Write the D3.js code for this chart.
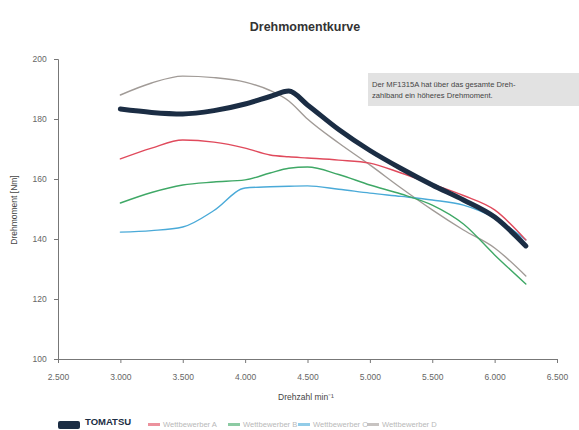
<!DOCTYPE html>
<html>
<head>
<meta charset="utf-8">
<script src="https://cdn.jsdelivr.net/npm/d3@7"></script>
<style>
  body { margin: 0; background: #fff; font-family: "Liberation Sans", Arial, sans-serif; }
  .axis path, .axis line { stroke: #777; }
  .axis text { fill: #666; font-size: 8.5px; }
</style>
</head>
<body>
<div id="chart"></div>
<script>
// rpm values
var rpm = [3000, 3250, 3500, 3750, 4000, 4200, 4350, 4500, 4750, 5000, 5250, 5500, 5750, 6000, 6250];

var tomatsu = [183.3, 182.2, 181.7, 182.8, 185, 187.5, 189.3, 184.7, 176.5, 169.5, 163.5, 158, 153, 147.3, 137.7];
var wettA   = [166.7, 170.3, 173, 172.3, 170.3, 168, 167.4, 167, 166.3, 165.3, 162, 158.3, 154.5, 149.7, 139.7];
var wettB   = [152, 155.5, 158, 159, 159.7, 162, 163.6, 164, 161.5, 158, 155, 151.3, 145, 134.7, 125];
var wettC   = [142.3, 142.8, 144, 149.5, 157, 157.4, 157.6, 157.7, 156.6, 155.3, 154.2, 153, 151.3, 147, 139.7];
var wettD   = [188, 192, 194.3, 193.8, 192.3, 189.5, 186, 180, 172, 164.7, 157, 149.7, 143, 137, 127.7];

var seriesNames = ["TOMATSU", "Wettbewerber A", "Wettbewerber B", "Wettbewerber C", "Wettbewerber D"];
var seriesColors = ["#1b2d44", "#e04a5c", "#3fa866", "#4aaad8", "#a19b97"];
var seriesWidths = [5, 1.4, 1.4, 1.4, 1.4];

var xTicks = [2500, 3000, 3500, 4000, 4500, 5000, 5500, 6000, 6500];
var yTicks = [100, 120, 140, 160, 180, 200];

var W = 579, H = 430;
var margin = {top: 59, right: 22, bottom: 71, left: 58},
    width = W - margin.left - margin.right,
    height = H - margin.top - margin.bottom;

var svg = d3.select("#chart").append("svg")
    .attr("width", W)
    .attr("height", H);

var g = svg.append("g")
    .attr("transform", "translate(" + margin.left + "," + margin.top + ")");

var x = d3.scaleLinear().domain([2500, 6500]).range([0, width]);
var y = d3.scaleLinear().domain([100, 200]).range([height, 0]);

var fmt = function(d) { return d3.format(",")(d).replace(",", "."); };

// Axes
g.append("g")
    .attr("class", "axis")
    .attr("transform", "translate(0," + height + ")")
    .call(d3.axisBottom(x).tickValues(xTicks).tickFormat(fmt).tickSize(4).tickSizeOuter(4))
    .selectAll("text").attr("dy", "1.6em");

g.append("g")
    .attr("class", "axis")
    .call(d3.axisLeft(y).tickValues(yTicks).tickSize(4).tickSizeOuter(4))
    .selectAll("text").attr("dx", "-0.5em");

// Title
svg.append("text")
    .attr("x", 305).attr("y", 31)
    .attr("text-anchor", "middle")
    .attr("font-size", 12.5).attr("font-weight", "bold")
    .attr("fill", "#333")
    .text("Drehmomentkurve");

// Axis titles
svg.append("text")
    .attr("x", 306).attr("y", 400)
    .attr("text-anchor", "middle")
    .attr("font-size", 8.5).attr("fill", "#444")
    .text("Drehzahl min⁻¹");

svg.append("text")
    .attr("transform", "translate(17,210) rotate(-90)")
    .attr("text-anchor", "middle")
    .attr("font-size", 8.5).attr("fill", "#444")
    .text("Drehmoment [Nm]");

// Lines
var line = d3.line()
    .x(function(d) { return x(d[0]); })
    .y(function(d) { return y(d[1]); })
    .curve(d3.curveMonotoneX);

var allSeries = [tomatsu, wettA, wettB, wettC, wettD];
var drawOrder = [4, 3, 2, 1, 0];

drawOrder.forEach(function(i) {
    g.append("path")
        .datum(rpm.map(function(r, j) { return [r, allSeries[i][j]]; }))
        .attr("fill", "none")
        .attr("stroke", seriesColors[i])
        .attr("stroke-width", seriesWidths[i])
        .attr("stroke-linecap", "round")
        .attr("stroke-linejoin", "round")
        .attr("d", line);
});

// Annotation box
svg.append("rect")
    .attr("x", 368).attr("y", 73)
    .attr("width", 215).attr("height", 33)
    .attr("fill", "#e2e2e2");

svg.append("text")
    .attr("x", 372).attr("y", 87)
    .attr("font-size", 7.6).attr("fill", "#444")
    .text("Der MF1315A hat über das gesamte Dreh-");
svg.append("text")
    .attr("x", 372).attr("y", 98)
    .attr("font-size", 7.6).attr("fill", "#444")
    .text("zahlband ein höheres Drehmoment.");

// Legend
var legendX = [58, 148, 228, 298, 367];
var legend = svg.append("g").attr("transform", "translate(0,425)");
seriesNames.forEach(function(n, i) {
    var lg = legend.append("g").attr("transform", "translate(" + legendX[i] + ",0)");
    if (i === 0) {
        lg.append("rect").attr("x", 0).attr("y", -4).attr("width", 22).attr("height", 8)
            .attr("rx", 2).attr("fill", seriesColors[0]);
        lg.append("text").attr("x", 27).attr("y", 0)
            .attr("font-size", 9.5).attr("font-weight", "bold").attr("fill", seriesColors[0])
            .text(n);
    } else {
        lg.append("rect").attr("x", 0).attr("y", -2).attr("width", 12).attr("height", 3)
            .attr("fill", seriesColors[i]).attr("opacity", 0.6);
        lg.append("text").attr("x", 15).attr("y", 2)
            .attr("font-size", 7.6).attr("fill", "#b8b8b8")
            .text(n);
    }
});
</script>
</body>
</html>
